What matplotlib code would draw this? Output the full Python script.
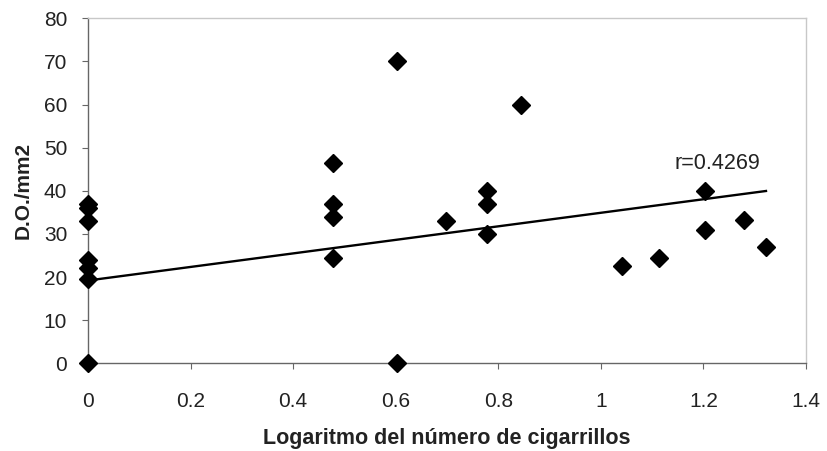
import matplotlib

matplotlib.use("Agg")
import matplotlib.pyplot as plt
import numpy as np

plt.rcParams["font.family"] = ["Liberation Sans", "DejaVu Sans"]

# log10 of cigarettes per day vs. D.O. per mm2
log_cigarettes = [0, 0, 0, 0, 0, 0, 0,
                  0.477, 0.477, 0.477, 0.477,
                  0.602, 0.602,
                  0.699,
                  0.778, 0.778, 0.778,
                  0.845,
                  1.041,
                  1.114,
                  1.204, 1.204,
                  1.279,
                  1.322]
do_mm2 = [0, 19.5, 22, 24, 33, 36, 37,
          46.5, 37, 34, 24.5,
          70, 0,
          33,
          40, 37, 30,
          60,
          22.5,
          24.5,
          40, 31,
          33.3,
          27]

# linear trend line
trend_intercept = 19.2
trend_slope = 15.7
r_label = "r=0.4269"

x_ticks = [0, 0.2, 0.4, 0.6, 0.8, 1, 1.2, 1.4]
x_tick_labels = ["0", "0.2", "0.4", "0.6", "0.8", "1", "1.2", "1.4"]
y_ticks = [0, 10, 20, 30, 40, 50, 60, 70, 80]

fig = plt.figure(figsize=(8.27, 4.51), dpi=100)
ax = fig.add_axes([0.1064, 0.1945, 0.8682, 0.7649])

ax.plot(log_cigarettes, do_mm2, linestyle="none", marker="D", markersize=9.4,
        color="black", zorder=3, clip_on=False)

trend_x = np.array([0, max(log_cigarettes)])
ax.plot(trend_x, trend_intercept + trend_slope * trend_x, color="black",
        linewidth=1.7, zorder=2)
ax.text(1.228, 46.4, r_label, fontsize=15.5, ha="center", va="center",
        color="#222222")

ax.set_xlim(0, 1.4)
ax.set_ylim(0, 80)
ax.set_xticks(x_ticks)
ax.set_xticklabels(x_tick_labels)
ax.set_yticks(y_ticks)
ax.tick_params(direction="out", length=4, width=0.8, color="#666666",
               labelsize=15, labelcolor="#222222")
ax.tick_params(axis="x", pad=17)
ax.tick_params(axis="y", pad=11)

for side in ("left", "bottom"):
    ax.spines[side].set_color("#666666")
    ax.spines[side].set_linewidth(1.0)
for side in ("top", "right"):
    ax.spines[side].set_color("#c8c8c8")
    ax.spines[side].set_linewidth(1.0)

ax.set_xlabel("Logaritmo del número de cigarrillos", fontsize=15.5,
              fontweight="bold", labelpad=12, color="#222222")
ax.set_ylabel("D.O./mm2", fontsize=15, fontweight="bold", labelpad=8,
              color="#222222")

fig.savefig("out.png", dpi=100)
